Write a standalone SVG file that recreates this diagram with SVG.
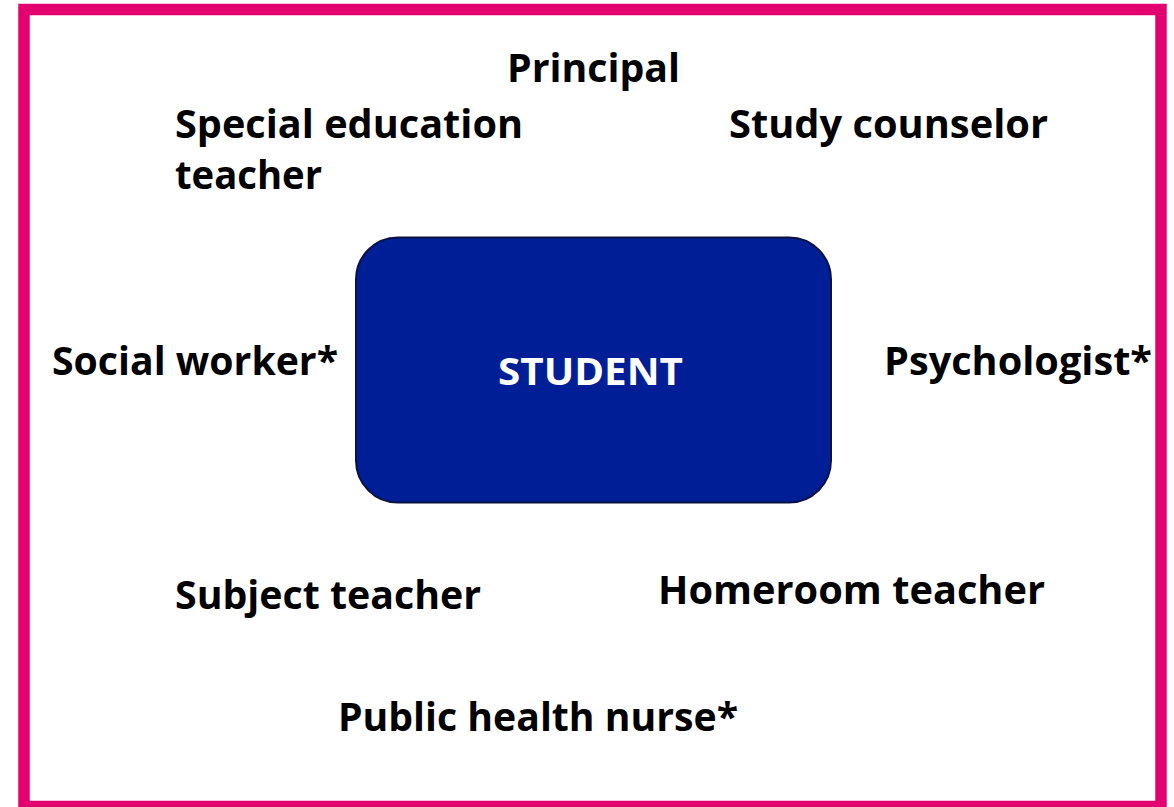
<svg xmlns="http://www.w3.org/2000/svg" width="1174" height="807" viewBox="0 0 1174 807">
  <style>
    .lbl { font-family: "Open Sans", "Noto Sans", "Liberation Sans", sans-serif; font-weight: 700; font-size: 38.5px; fill: #000000; }
    .center { font-family: "Open Sans", "Noto Sans", "Liberation Sans", sans-serif; font-weight: 700; font-size: 38px; fill: #FFFFFF; }
  </style>
  <rect width="1174" height="807" fill="#FFFFFF"/>
  <rect id="frame" x="24" y="9.5" width="1137" height="797" fill="none" stroke="#E3006F" stroke-width="11.5"/>
  <g id="connectors"></g>
  <g id="student">
    <rect x="356" y="237.5" width="475" height="265" rx="42" ry="42" fill="#001E96" stroke="#0A1245" stroke-width="2"/>
    <text class="center" x="498" y="385" textLength="185" lengthAdjust="spacingAndGlyphs">STUDENT</text>
  </g>
  <g id="principal"><text class="lbl" x="507" y="82" textLength="173" lengthAdjust="spacingAndGlyphs">Principal</text></g>
  <g id="special-education-teacher">
    <text class="lbl" x="175" y="138" textLength="348" lengthAdjust="spacingAndGlyphs">Special education</text>
    <text class="lbl" x="175" y="189" textLength="147" lengthAdjust="spacingAndGlyphs">teacher</text>
  </g>
  <g id="study-counselor"><text class="lbl" x="729" y="137.5" textLength="319" lengthAdjust="spacingAndGlyphs">Study counselor</text></g>
  <g id="social-worker"><text class="lbl" x="52" y="375" textLength="286" lengthAdjust="spacingAndGlyphs">Social worker*</text></g>
  <g id="psychologist"><text class="lbl" x="884" y="374.5" textLength="268" lengthAdjust="spacingAndGlyphs">Psychologist*</text></g>
  <g id="subject-teacher"><text class="lbl" x="175" y="608.5" textLength="306" lengthAdjust="spacingAndGlyphs">Subject teacher</text></g>
  <g id="homeroom-teacher"><text class="lbl" x="658" y="603.5" textLength="387" lengthAdjust="spacingAndGlyphs">Homeroom teacher</text></g>
  <g id="public-health-nurse"><text class="lbl" x="338" y="730.5" textLength="400" lengthAdjust="spacingAndGlyphs">Public health nurse*</text></g>
</svg>
